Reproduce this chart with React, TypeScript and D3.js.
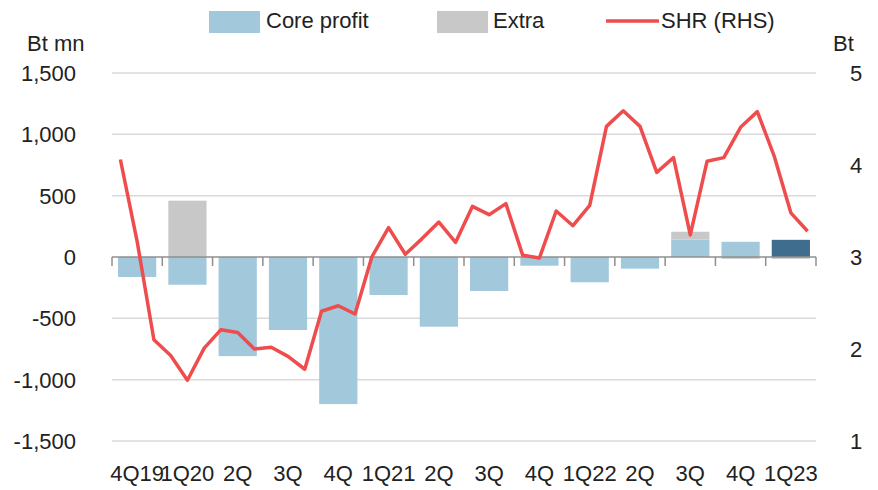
import React from "react";
import * as d3 from "d3";

const categories = ["4Q19", "1Q20", "2Q", "3Q", "4Q", "1Q21", "2Q", "3Q", "4Q", "1Q22", "2Q", "3Q", "4Q", "1Q23"];
const coreProfit = [-163, -226, -808, -595, -1199, -310, -568, -277, -71, -206, -95, 142, 124, 140];
const extra = [0, 459, 0, 0, 0, 0, 0, 0, 0, 0, 0, 64, -15, -15];
const shr = [
  4.06, 3.17, 2.10, 1.93, 1.66, 2.01, 2.21, 2.18, 2.00, 2.02, 1.92, 1.78,
  2.41, 2.47, 2.38, 3.00, 3.32, 3.03, 3.20, 3.38, 3.16, 3.55, 3.46, 3.58,
  3.02, 2.99, 3.50, 3.34, 3.56, 4.42, 4.59, 4.42, 3.92, 4.08, 3.24, 4.04,
  4.08, 4.41, 4.58, 4.10, 3.48, 3.28,
];
const leftTicks = [1500, 1000, 500, 0, -500, -1000, -1500];
const rightTicks = [5, 4, 3, 2, 1];

const W = 878, H = 490;
const L = 112, R = 816, T = 73, B = 441;
const FONT = "'Liberation Sans', Arial, sans-serif";
const FS = 22;
const TXT = "#222";
const CORE = "#a2c8dc";
const CORE_LAST = "#3e6d8d";
const EXTRA = "#c8c8c8";
const RED = "#ef4d4d";

const fmt = (v: number) => d3.format(",")(v).replace("\u2212", "-");

export default function App() {
  const x = d3.scaleBand<number>().domain(d3.range(categories.length)).range([L, R]).paddingInner(0.24).paddingOuter(0.12);
  const y = d3.scaleLinear().domain([-1500, 1500]).range([B, T]);
  const y2 = d3.scaleLinear().domain([1, 5]).range([B, T]);
  const xm = d3.scaleLinear().domain([0, shr.length]).range([L, R]);
  const step = (R - L) / categories.length;

  const line = d3.line<number>().x((_, i) => xm(i + 0.5)).y((d) => y2(d));

  const bars: JSX.Element[] = [];
  categories.forEach((_, i) => {
    let pos = 0, neg = 0;
    const parts: [number, string][] = [[coreProfit[i], i === categories.length - 1 ? CORE_LAST : CORE], [extra[i], EXTRA]];
    parts.forEach(([v, c], k) => {
      if (v === 0) return;
      let y0, y1;
      if (v > 0) { y0 = pos; y1 = pos + v; pos = y1; } else { y0 = neg; y1 = neg + v; neg = y1; }
      const top = y(Math.max(y0, y1)), bot = y(Math.min(y0, y1));
      bars.push(<rect key={`${i}-${k}`} x={x(i)} y={top} width={x.bandwidth()} height={bot - top} fill={c} />);
    });
  });

  return (
    <svg width={W} height={H} style={{ position: "absolute", left: 0, top: 0, background: "#fff" }} fontFamily={FONT}>
      {leftTicks.filter((t) => t !== 0).map((t) => (
        <line key={t} x1={L} x2={R} y1={y(t)} y2={y(t)} stroke="#d9d9d9" strokeWidth={1.5} />
      ))}
      {bars}
      <line x1={L} x2={R} y1={y(0)} y2={y(0)} stroke="#8f8f8f" strokeWidth={1.5} />
      {d3.range(categories.length + 1).map((i) => (
        <line key={i} x1={L + i * step} x2={L + i * step} y1={y(0)} y2={y(0) + 9} stroke="#8f8f8f" strokeWidth={1.5} />
      ))}
      <path d={line(shr) || ""} fill="none" stroke={RED} strokeWidth={3.5} strokeLinejoin="round" />
      {leftTicks.map((t) => (
        <text key={t} x={76} y={y(t) + 8} textAnchor="end" fontSize={FS} fill={TXT}>{fmt(t)}</text>
      ))}
      {rightTicks.map((t) => (
        <text key={t} x={850} y={y2(t) + 8} textAnchor="start" fontSize={FS} fill={TXT}>{t}</text>
      ))}
      {categories.map((c, i) => (
        <text key={i} x={(x(i) as number) + x.bandwidth() / 2} y={481} textAnchor="middle" fontSize={FS} fill={TXT}>{c}</text>
      ))}
      <text x={27} y={51} fontSize={FS} fill={TXT}>Bt mn</text>
      <text x={833} y={51} fontSize={FS} fill={TXT}>Bt</text>
      <rect x={209} y={11} width={51} height={22} fill={CORE} />
      <text x={266} y={28} fontSize={FS} fill={TXT}>Core profit</text>
      <rect x={437} y={11} width={51} height={22} fill={EXTRA} />
      <text x={493} y={28} fontSize={FS} fill={TXT}>Extra</text>
      <line x1={606} x2={659} y1={21} y2={21} stroke={RED} strokeWidth={3.5} />
      <text x={661} y={28} fontSize={FS} fill={TXT}>SHR (RHS)</text>
    </svg>
  );
}
